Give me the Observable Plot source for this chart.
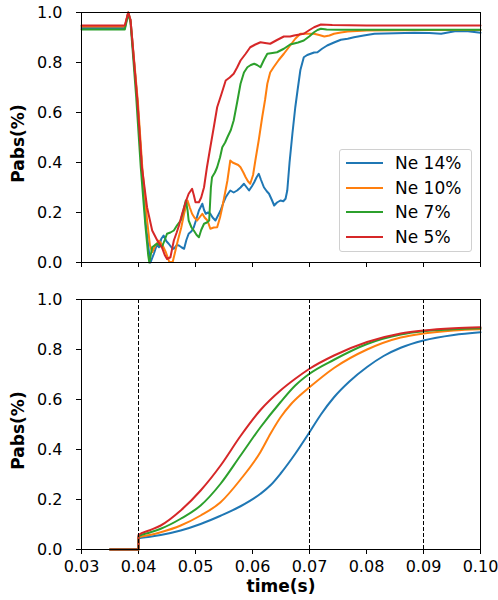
<!DOCTYPE html>
<html>
<head>
<meta charset="utf-8">
<script src="https://cdn.jsdelivr.net/npm/d3@7"></script>
<script src="https://cdn.jsdelivr.net/npm/@observablehq/plot@0.6"></script>
<style>
  html, body { margin: 0; padding: 0; background: #fff; }
  #wrap { position: relative; width: 498px; height: 600px; font-family: "DejaVu Sans", sans-serif; }
  #wrap svg { display: block; }
  .legend { position: absolute; left: 339px; top: 149px; width: 131px; height: 101px;
    border: 1px solid #d0d0d0; border-radius: 3px; background: rgba(255,255,255,0.85); }
  .legend .row { position: absolute; left: 0; height: 20px; }
  .legend .sw { position: absolute; left: 6px; width: 37px; height: 2px; top: 9px; }
  .legend .lb { position: absolute; left: 55px; top: 0; font-size: 17px; line-height: 20px; white-space: nowrap; color: #000; }
</style>
</head>
<body>
<div id="wrap"></div>
<script>
// ---- series ----
const seriesNames = ["Ne 14%", "Ne 10%", "Ne 7%", "Ne 5%"];
const seriesColors = ["#1f77b4", "#ff7f0e", "#2ca02c", "#d62728"];

// ---- axis ticks ----
const xTicks = [0.03, 0.04, 0.05, 0.06, 0.07, 0.08, 0.09, 0.10];
const yTicks = [0.0, 0.2, 0.4, 0.6, 0.8, 1.0];
const markerTimes = [0.04, 0.07, 0.09];

// ---- top panel: Ne 14% ----
const topT14 = [0.030,0.0376,0.0382,0.0386,0.0398,0.0406,0.0413,0.0419,0.0421,0.0427,0.0432,0.0436,0.0440,0.0444,0.0449,0.0453,0.0458,0.0462,0.0467,0.0471,0.0476,0.0480,0.0484,0.0488,0.0493,0.0497,0.0501,0.0506,0.0512,0.0515,0.0518,0.0522,0.0526,0.0530,0.0535,0.0540,0.0544,0.0549,0.0553,0.0557,0.0561,0.0567,0.0573,0.0579,0.0585,0.0590,0.0594,0.0599,0.0603,0.0607,0.0611,0.0615,0.0620,0.0625,0.0629,0.0634,0.0638,0.0643,0.0649,0.0654,0.0658,0.0661,0.0665,0.0670,0.0675,0.0679,0.0684,0.0690,0.0696,0.0702,0.0708,0.0714,0.0722,0.0731,0.0743,0.0755,0.0767,0.0778,0.0795,0.0814,0.0850,0.0884,0.0910,0.0931,0.0955,0.0978,0.1000];
const topV14 = [0.938,0.938,1.0,0.97,0.65,0.38,0.15,0.03,0.0,0.035,0.07,0.061,0.095,0.108,0.085,0.075,0.06,0.055,0.07,0.068,0.06,0.055,0.09,0.115,0.125,0.141,0.17,0.208,0.235,0.21,0.195,0.2,0.195,0.18,0.168,0.19,0.208,0.24,0.261,0.275,0.288,0.28,0.288,0.3,0.315,0.3,0.288,0.305,0.321,0.34,0.355,0.33,0.301,0.285,0.275,0.25,0.228,0.24,0.248,0.245,0.255,0.288,0.40,0.515,0.62,0.688,0.77,0.821,0.83,0.835,0.84,0.841,0.855,0.868,0.88,0.891,0.895,0.901,0.908,0.915,0.917,0.919,0.918,0.915,0.925,0.925,0.919];

// ---- top panel: Ne 10% ----
const topT10 = [0.030,0.0376,0.0382,0.0386,0.0399,0.0407,0.0415,0.0420,0.0424,0.0430,0.0436,0.0442,0.0448,0.0454,0.0460,0.0464,0.0469,0.0475,0.0480,0.0486,0.0490,0.0494,0.0498,0.0503,0.0507,0.0512,0.0516,0.0521,0.0526,0.0532,0.0538,0.0543,0.0547,0.0552,0.0556,0.0561,0.0565,0.0570,0.0575,0.0579,0.0584,0.0588,0.0592,0.0596,0.0601,0.0605,0.0611,0.0617,0.0622,0.0626,0.0631,0.0637,0.0646,0.0655,0.0666,0.0675,0.0684,0.0696,0.0708,0.0717,0.0726,0.0735,0.0743,0.0755,0.0767,0.0800,0.0900,0.1000];
const topV10 = [0.944,0.944,1.0,0.97,0.64,0.37,0.17,0.07,0.041,0.07,0.088,0.07,0.041,0.002,0.002,0.04,0.088,0.14,0.195,0.248,0.22,0.195,0.18,0.168,0.18,0.195,0.18,0.168,0.135,0.14,0.141,0.18,0.221,0.28,0.328,0.408,0.40,0.395,0.39,0.381,0.36,0.341,0.325,0.315,0.35,0.408,0.49,0.581,0.65,0.715,0.76,0.781,0.81,0.835,0.868,0.895,0.915,0.915,0.915,0.91,0.904,0.908,0.915,0.92,0.924,0.928,0.93,0.93];

// ---- top panel: Ne 7% ----
const topT7 = [0.030,0.0376,0.0382,0.0386,0.0396,0.0404,0.0412,0.0417,0.0419,0.0424,0.0429,0.0433,0.0437,0.0441,0.0446,0.0450,0.0456,0.0462,0.0468,0.0474,0.0479,0.0483,0.0486,0.0488,0.0493,0.0497,0.0502,0.0506,0.0510,0.0515,0.0520,0.0524,0.0527,0.0529,0.0534,0.0538,0.0543,0.0547,0.0552,0.0556,0.0562,0.0567,0.0573,0.0579,0.0585,0.0591,0.0597,0.0603,0.0608,0.0614,0.0620,0.0626,0.0635,0.0643,0.0655,0.0666,0.0680,0.0690,0.0700,0.0708,0.0714,0.0720,0.0730,0.0750,0.0800,0.0900,0.1000];
const topV7 = [0.932,0.932,0.995,0.96,0.66,0.38,0.15,0.03,0.0,0.061,0.07,0.075,0.07,0.061,0.09,0.115,0.12,0.128,0.15,0.168,0.21,0.248,0.21,0.168,0.14,0.128,0.11,0.101,0.13,0.155,0.16,0.168,0.3,0.341,0.36,0.381,0.42,0.461,0.48,0.501,0.53,0.568,0.64,0.715,0.76,0.781,0.79,0.795,0.79,0.781,0.81,0.835,0.838,0.841,0.855,0.872,0.88,0.888,0.905,0.921,0.93,0.935,0.932,0.931,0.931,0.931,0.931];

// ---- top panel: Ne 5% ----
const topT5 = [0.030,0.0376,0.0382,0.0386,0.0398,0.0406,0.0415,0.0424,0.0433,0.0441,0.0446,0.0450,0.0456,0.0462,0.0467,0.0471,0.0476,0.0480,0.0484,0.0488,0.0494,0.0497,0.0500,0.0506,0.0510,0.0515,0.0520,0.0526,0.0532,0.0538,0.0545,0.0553,0.0560,0.0567,0.0573,0.0579,0.0588,0.0596,0.0605,0.0614,0.0622,0.0631,0.0643,0.0655,0.0666,0.0673,0.0690,0.0700,0.0708,0.0720,0.0740,0.0800,0.0900,0.1000];
const topV5 = [0.948,0.948,1.0,0.97,0.648,0.381,0.221,0.128,0.088,0.061,0.03,0.014,0.021,0.088,0.12,0.148,0.19,0.221,0.25,0.275,0.295,0.27,0.241,0.241,0.26,0.301,0.38,0.461,0.54,0.621,0.67,0.728,0.74,0.755,0.78,0.808,0.835,0.861,0.872,0.881,0.878,0.875,0.89,0.904,0.904,0.908,0.915,0.93,0.941,0.952,0.95,0.948,0.948,0.948];

// ---- bottom panel ----
const botT14 = [0.035,0.040,0.040,0.0420,0.0439,0.0474,0.0509,0.0544,0.0579,0.0614,0.0632,0.0649,0.0675,0.0700,0.0720,0.0743,0.0770,0.0801,0.0830,0.0860,0.0900,0.0953,0.1000];
const botV14 = [0,0,0.045,0.051,0.058,0.076,0.102,0.135,0.173,0.223,0.258,0.303,0.383,0.469,0.540,0.609,0.672,0.730,0.774,0.807,0.836,0.858,0.869];
const botT10 = [0.035,0.040,0.040,0.0420,0.0439,0.0474,0.0509,0.0544,0.0579,0.0614,0.0632,0.0649,0.0667,0.0685,0.0700,0.0743,0.0801,0.0860,0.0900,0.0953,0.1000];
const botV10 = [0,0,0.049,0.058,0.069,0.096,0.136,0.189,0.280,0.390,0.465,0.528,0.580,0.620,0.649,0.726,0.800,0.848,0.864,0.876,0.881];
const botT7 = [0.035,0.040,0.040,0.0420,0.0439,0.0474,0.0509,0.0544,0.0579,0.0614,0.0649,0.0675,0.0700,0.0743,0.0801,0.0860,0.0900,0.0953,0.1000];
const botV7 = [0,0,0.053,0.068,0.083,0.123,0.176,0.263,0.376,0.489,0.589,0.656,0.703,0.759,0.822,0.860,0.873,0.881,0.885];
const botT5 = [0.035,0.040,0.040,0.0420,0.0439,0.0474,0.0509,0.0544,0.0579,0.0614,0.0649,0.0675,0.0700,0.0743,0.0801,0.0860,0.0900,0.0953,0.1000];
const botV5 = [0,0,0.058,0.077,0.096,0.156,0.236,0.336,0.454,0.558,0.636,0.683,0.723,0.776,0.830,0.864,0.876,0.885,0.889];

function rows(tArrs, vArrs) {
  const out = [];
  seriesNames.forEach((name, i) => {
    tArrs[i].forEach((t, j) => out.push({t, v: vArrs[i][j], s: name}));
  });
  return out;
}
const topData = rows([topT14, topT10, topT7, topT5], [topV14, topV10, topV7, topV5]);
const botData = rows([botT14, botT10, botT7, botT5], [botV14, botV10, botV7, botV5]);

const common = {
  width: 498,
  marginLeft: 81,
  marginRight: 18,
  style: {fontFamily: "DejaVu Sans, sans-serif", fontSize: "16px", color: "#000", background: "#fff"},
  x: {domain: [0.03, 0.10]},
  y: {domain: [0, 1]},
  color: {domain: seriesNames, range: seriesColors}
};

const yLabel = () => Plot.text(["Pabs(%)"], {frameAnchor: "left", rotate: -90, textAnchor: "middle", lineAnchor: "middle", dx: -63, dy: 6, fontWeight: "bold", fontSize: 17});

const topPlot = Plot.plot({
  ...common,
  height: 280,
  marginTop: 12,
  marginBottom: 18,
  marks: [
    Plot.axisY({ticks: yTicks, tickFormat: d3.format(".1f"), tickSize: 5, tickPadding: 14, label: null}),
    Plot.axisX({ticks: xTicks, tickFormat: () => "", tickSize: 5, label: null}),
    Plot.line(topData, {x: "t", y: "v", z: "s", stroke: "s", strokeWidth: 2, curve: "linear"}),
    Plot.frame({stroke: "#000", strokeWidth: 1}),
    yLabel()
  ]
});

const bottomPlot = Plot.plot({
  ...common,
  height: 320,
  marginTop: 19,
  marginBottom: 51,
  marks: [
    Plot.axisY({ticks: yTicks, tickFormat: d3.format(".1f"), tickSize: 5, tickPadding: 14, label: null}),
    Plot.axisX({ticks: xTicks, tickFormat: d3.format(".2f"), tickSize: 5, tickPadding: 6, label: null}),
    Plot.line(botData, {x: "t", y: "v", z: "s", stroke: "s", strokeWidth: 2, curve: "monotone-x"}),
    Plot.ruleX(markerTimes, {stroke: "#000", strokeWidth: 1, strokeDasharray: "4,2"}),
    Plot.frame({stroke: "#000", strokeWidth: 1}),
    yLabel(),
    Plot.text(["time(s)"], {frameAnchor: "bottom", lineAnchor: "middle", dy: 37, fontWeight: "bold", fontSize: 17})
  ]
});

const wrap = document.getElementById("wrap");
wrap.appendChild(topPlot);
wrap.appendChild(bottomPlot);

// legend
const leg = document.createElement("div");
leg.className = "legend";
seriesNames.forEach((name, i) => {
  const row = document.createElement("div");
  row.className = "row";
  row.style.top = (3 + i * 24.7) + "px";
  row.style.width = "131px";
  const sw = document.createElement("div");
  sw.className = "sw";
  sw.style.background = seriesColors[i];
  const lb = document.createElement("div");
  lb.className = "lb";
  lb.textContent = name;
  row.appendChild(sw);
  row.appendChild(lb);
  leg.appendChild(row);
});
wrap.appendChild(leg);
</script>
</body>
</html>
